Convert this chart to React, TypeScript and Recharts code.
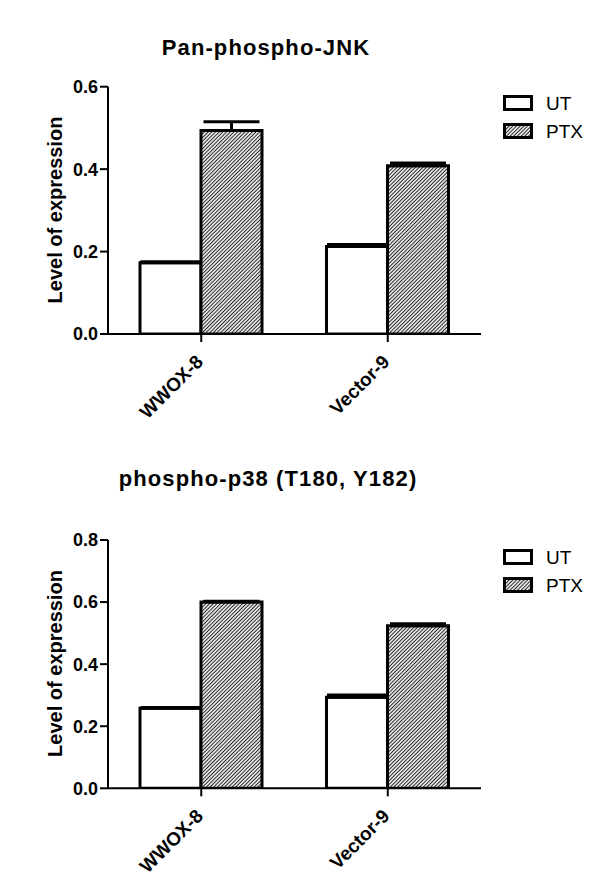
import { BarChart, Bar, XAxis, YAxis, ErrorBar } from "recharts";

const FONT = "'Liberation Sans', Arial, Helvetica, sans-serif";

const groups = ["WWOX-8", "Vector-9"];
const seriesNames = ["UT", "PTX"];

// Pan-phospho-JNK
const jnkUT = [0.173, 0.212];
const jnkUTErr = [0.002, 0.005];
const jnkPTX = [0.494, 0.408];
const jnkPTXErr = [0.021, 0.007];
const jnkTicks = [0, 0.2, 0.4, 0.6];

// phospho-p38 (T180, Y182)
const p38UT = [0.258, 0.293];
const p38UTErr = [0.002, 0.008];
const p38PTX = [0.6, 0.524];
const p38PTXErr = [0.003, 0.006];
const p38Ticks = [0, 0.2, 0.4, 0.6, 0.8];

function buildRows(ut: number[], utErr: number[], ptx: number[], ptxErr: number[]) {
  return groups.map((g, i) => ({
    group: g,
    ut: ut[i],
    utErr: [0, utErr[i]],
    ptx: ptx[i],
    ptxErr: [0, ptxErr[i]],
  }));
}

function Hatch({ id }: { id: string }) {
  return (
    <pattern id={id} patternUnits="userSpaceOnUse" width="2.6" height="2.6" patternTransform="rotate(45)">
      <rect width="2.6" height="2.6" fill="#fff" />
      <line x1="1.3" y1="0" x2="1.3" y2="2.6" stroke="#222" strokeWidth="1.1" />
    </pattern>
  );
}

const XTick = (props: any) => {
  const { x, y, payload } = props;
  const ax = x + 3;
  const ay = y + 19;
  return (
    <text
      x={ax}
      y={ay}
      transform={`rotate(-45, ${ax}, ${ay})`}
      textAnchor="end"
      fontFamily={FONT}
      fontWeight="bold"
      fontSize={19}
      fill="#000"
    >
      {payload.value}
    </text>
  );
};

function LegendBox({ hatchId, top }: { hatchId: string; top: number }) {
  return (
    <div style={{ position: "absolute", left: 503, top, fontFamily: FONT, fontSize: 19, color: "#000" }}>
      {seriesNames.map((name, i) => (
        <div key={name} style={{ display: "flex", alignItems: "center", height: 28 }}>
          <svg width={31} height={17} style={{ display: "block" }}>
            <defs>
              <Hatch id={hatchId + "-lg"} />
            </defs>
            <rect
              x={1.5}
              y={1.5}
              width={27}
              height={13}
              fill={i === 0 ? "#fff" : `url(#${hatchId}-lg)`}
              stroke="#000"
              strokeWidth={3}
            />
          </svg>
          <span style={{ marginLeft: 12, lineHeight: "19px" }}>{name}</span>
        </div>
      ))}
    </div>
  );
}

interface PanelProps {
  title: string;
  rows: any[];
  ticks: number[];
  height: number;
  marginTop: number;
  marginBottom: number;
  titleX: number;
  titleY: number;
  labelY: number;
  legendTop: number;
  hatchId: string;
}

function Panel(p: PanelProps) {
  const max = p.ticks[p.ticks.length - 1];
  return (
    <>
      <BarChart
        width={595}
        height={p.height}
        data={p.rows}
        margin={{ top: p.marginTop, right: 114, bottom: p.marginBottom, left: 48 }}
        barGap={0}
        barSize={61}
      >
        <defs>
          <Hatch id={p.hatchId} />
        </defs>
        <text
          x={p.titleX}
          y={p.titleY}
          textAnchor="middle"
          fontFamily={FONT}
          fontWeight="bold"
          fontSize={22}
          letterSpacing={1.1}
          fill="#000"
        >
          {p.title}
        </text>
        <text
          x={55}
          y={p.labelY}
          transform={`rotate(-90, 55, ${p.labelY})`}
          textAnchor="middle"
          dominantBaseline="central"
          fontFamily={FONT}
          fontWeight="bold"
          fontSize={20}
          fill="#000"
        >
          Level of expression
        </text>
        <XAxis
          dataKey="group"
          height={80}
          tick={<XTick />}
          tickSize={8}
          axisLine={{ stroke: "#000", strokeWidth: 2 }}
          tickLine={{ stroke: "#000", strokeWidth: 2 }}
          interval={0}
        />
        <YAxis
          width={60}
          domain={[0, max]}
          ticks={p.ticks}
          tickFormatter={(v: number) => v.toFixed(1)}
          tickSize={8}
          tickMargin={2}
          axisLine={{ stroke: "#000", strokeWidth: 2 }}
          tickLine={{ stroke: "#000", strokeWidth: 2 }}
          tick={{ fill: "#000", fontFamily: FONT, fontWeight: "bold", fontSize: 18 }}
          allowDataOverflow
        />
        <Bar dataKey="ut" name="UT" fill="#fff" stroke="#000" strokeWidth={3} isAnimationActive={false}>
          <ErrorBar dataKey="utErr" direction="y" width={30} stroke="#000" strokeWidth={3} />
        </Bar>
        <Bar dataKey="ptx" name="PTX" fill={`url(#${p.hatchId})`} stroke="#000" strokeWidth={3} isAnimationActive={false}>
          <ErrorBar dataKey="ptxErr" direction="y" width={28} stroke="#000" strokeWidth={3} />
        </Bar>
      </BarChart>
      <LegendBox hatchId={p.hatchId} top={p.legendTop} />
    </>
  );
}

export default function App() {
  return (
    <div style={{ position: "absolute", left: 0, top: 0, width: 595, height: 887, background: "#fff" }}>
      <div style={{ position: "absolute", left: 0, top: 0, width: 595, height: 440 }}>
        <Panel
          title="Pan-phospho-JNK"
          rows={buildRows(jnkUT, jnkUTErr, jnkPTX, jnkPTXErr)}
          ticks={jnkTicks}
          height={440}
          marginTop={86.7}
          marginBottom={26}
          titleX={266}
          titleY={55}
          labelY={210}
          legendTop={89}
          hatchId="hatchJnk"
        />
      </div>
      <div style={{ position: "absolute", left: 0, top: 440, width: 595, height: 447 }}>
        <Panel
          title="phospho-p38 (T180, Y182)"
          rows={buildRows(p38UT, p38UTErr, p38PTX, p38PTXErr)}
          ticks={p38Ticks}
          height={447}
          marginTop={100}
          marginBottom={18.7}
          titleX={268}
          titleY={46}
          labelY={223.5}
          legendTop={103}
          hatchId="hatchP38"
        />
      </div>
    </div>
  );
}
